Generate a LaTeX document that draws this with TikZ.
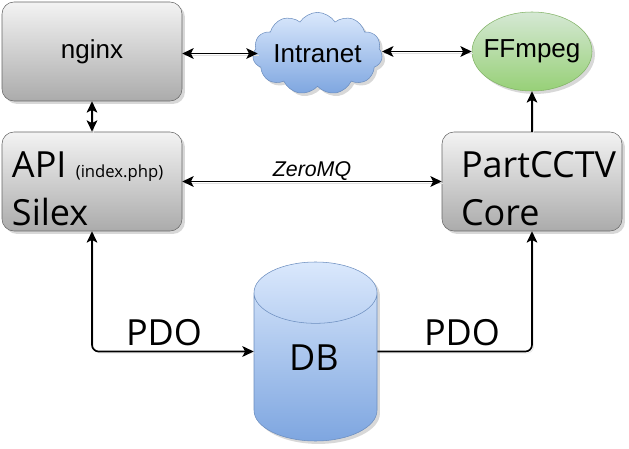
\documentclass[tikz,border=0pt]{standalone}
\usepackage{fontspec}
\setmainfont{Liberation Sans}
\newfontfamily\bigfont{Open Sans}
\usetikzlibrary{shapes,shapes.geometric,shapes.symbols,arrows.meta,positioning,shadows}
\definecolor{boxtop}{HTML}{F3F3F3}
\definecolor{boxbot}{HTML}{ABABAB}
\definecolor{boxline}{HTML}{666666}
\definecolor{bluetop}{HTML}{DAE8FC}
\definecolor{bluebot}{HTML}{7EA6E0}
\definecolor{blueline}{HTML}{6C8EBF}
\definecolor{greentop}{HTML}{D5E8D4}
\definecolor{greenbot}{HTML}{97D077}
\definecolor{greenline}{HTML}{82B366}
\def\px{0.75pt}
\def\lowerline{\rule{0pt}{30pt}}

\begin{document}
\begin{tikzpicture}[
    x=0.75pt, y=-0.75pt,
    softshadow/.style={drop shadow={shadow xshift=2.2pt, shadow yshift=-2.2pt, opacity=0.22, fill=black!70}},
    server/.style={rectangle, rounded corners=9pt, draw=boxline, top color=boxtop, bottom color=boxbot,
        minimum width=180*\px, minimum height=99*\px, inner sep=0pt, softshadow},
    bigbox/.style={server, align=left, text width=#1, font=\bigfont\fontsize{27}{36}\selectfont},
    smalltext/.style={font=\fontsize{19.5}{22}\selectfont},
    bigtext/.style={font=\bigfont\fontsize{27}{30}\selectfont},
    flow/.style={line width=1.25pt, -{Stealth[length=8.5pt, width=8pt, inset=2pt]},
        preaction={draw=black!12, -, transform canvas={shift={(1.2pt,-1.2pt)}}}},
    biflow/.style={flow, {Stealth[length=8.5pt, width=8pt, inset=2pt]}-{Stealth[length=8.5pt, width=8pt, inset=2pt]}}
]
    \useasboundingbox (0,0) rectangle (629,449);

    % Boxes
    \node[server, smalltext] (nginx) at (92,51.5) {\raisebox{-5pt}{nginx}};
    \node[bigbox=160*\px] (api) at (92,181.5) {\lowerline API\hspace{-2pt} {\fontsize{12.5}{15}\selectfont (index.php)}\\Silex};
    \node[bigbox=142*\px] (core) at (532,181.5) {\lowerline PartCCTV\\Core};

    % Cloud and ellipse
    \node[cloud, cloud puffs=11, cloud puff arc=115, aspect=1.9, draw=blueline, top color=bluetop, bottom color=bluebot,
        minimum width=129*\px, minimum height=79*\px, inner sep=0pt, softshadow, smalltext] (intranet) at (317.5,53.5) {Intranet};
    \node[ellipse, draw=greenline, top color=greentop, bottom color=greenbot,
        minimum width=120*\px, minimum height=79*\px, inner sep=-5pt, softshadow, smalltext] (ffmpeg) at (532,51.5) {\raisebox{-2.5pt}{FFmpeg}};

    % Database
    \node[cylinder, shape border rotate=90, shape aspect=0.5, anchor=shape center, draw=blueline, top color=bluetop, bottom color=bluebot,
        minimum width=123*\px, minimum height=179*\px, inner xsep=46pt, inner ysep=0pt, softshadow] (db) at (315.5,351.5) {};
    \node[bigtext] (dblabel) at (314,358) {DB};

    % Connectors
    \draw[biflow, shorten >=-3.5pt] (nginx.east |- intranet.west) -- (intranet.west);
    \draw[biflow] (intranet.east |- ffmpeg.west) -- (ffmpeg.west);
    \draw[biflow] (nginx.south) -- (api.north);
    \draw[biflow] (api.east) -- node[above=-3pt, font=\itshape\fontsize{16}{18}\selectfont] (zeromq) {ZeroMQ} (core.west);
    \draw[flow] (core.north) -- (ffmpeg.south);
    \draw[biflow, rounded corners=5pt] (api.south) |- (db.west |- db.shape center);
    \draw[flow, rounded corners=5pt] (db.east |- db.shape center) -| (core.south);

    % Labels
    \node[bigtext] (pdoleft) at (164,333) {PDO};
    \node[bigtext] (pdoright) at (462,333) {PDO};
\end{tikzpicture}
\end{document}
